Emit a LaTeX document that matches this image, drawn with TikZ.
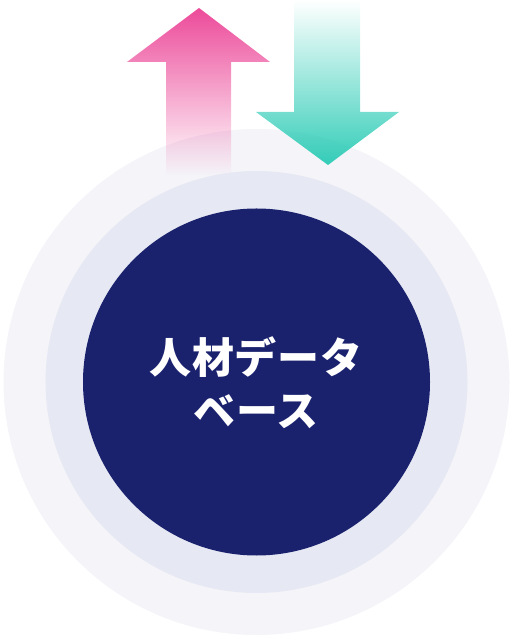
\documentclass[tikz,border=0pt]{standalone}
\usepackage{fontspec}
\newfontfamily\cjk[LetterSpace=2]{Noto Sans CJK JP}
\usetikzlibrary{fadings}
\definecolor{outerc}{HTML}{F5F4F9}
\definecolor{midc}{HTML}{E6E9F3}
\definecolor{navy}{HTML}{1A226E}
\definecolor{pinkc}{HTML}{EC4A9A}
\definecolor{tealc}{HTML}{33CDB8}
\tikzfading[name=fadedown, top color=transparent!0, middle color=transparent!68, bottom color=transparent!100]
\tikzfading[name=fadeup, top color=transparent!100, middle color=transparent!60, bottom color=transparent!0]
\tikzset{
  ring/.style={circle, inner sep=0pt, draw=none},
}
\begin{document}
\begin{tikzpicture}[x=1bp,y=1bp]
\useasboundingbox (0,0) rectangle (513,636);
\node[ring, fill=outerc, minimum size=506bp] (outer) at (256.5,254) {};
% pink up arrow
\fill[pinkc, path fading=fadedown] (199,628) -- (270,574) -- (231,574) -- (231,461) -- (166,461) -- (166,574) -- (127,574) -- cycle;
% teal down arrow
\fill[tealc, path fading=fadeup] (294,636) -- (360,636) -- (360,524) -- (399,524) -- (328,471) -- (256,524) -- (294,524) -- cycle;
\node[ring, fill=midc, minimum size=422bp] (middle) at (256.5,254) {};
\node[ring, fill=navy, minimum size=347bp] (inner) at (256.5,254) {};
\node[text=white, align=center, inner sep=0pt, font=\cjk\bfseries\fontsize{42bp}{53bp}\selectfont] (label) at (256,253) {人材データ\\ベース};
\end{tikzpicture}
\end{document}
